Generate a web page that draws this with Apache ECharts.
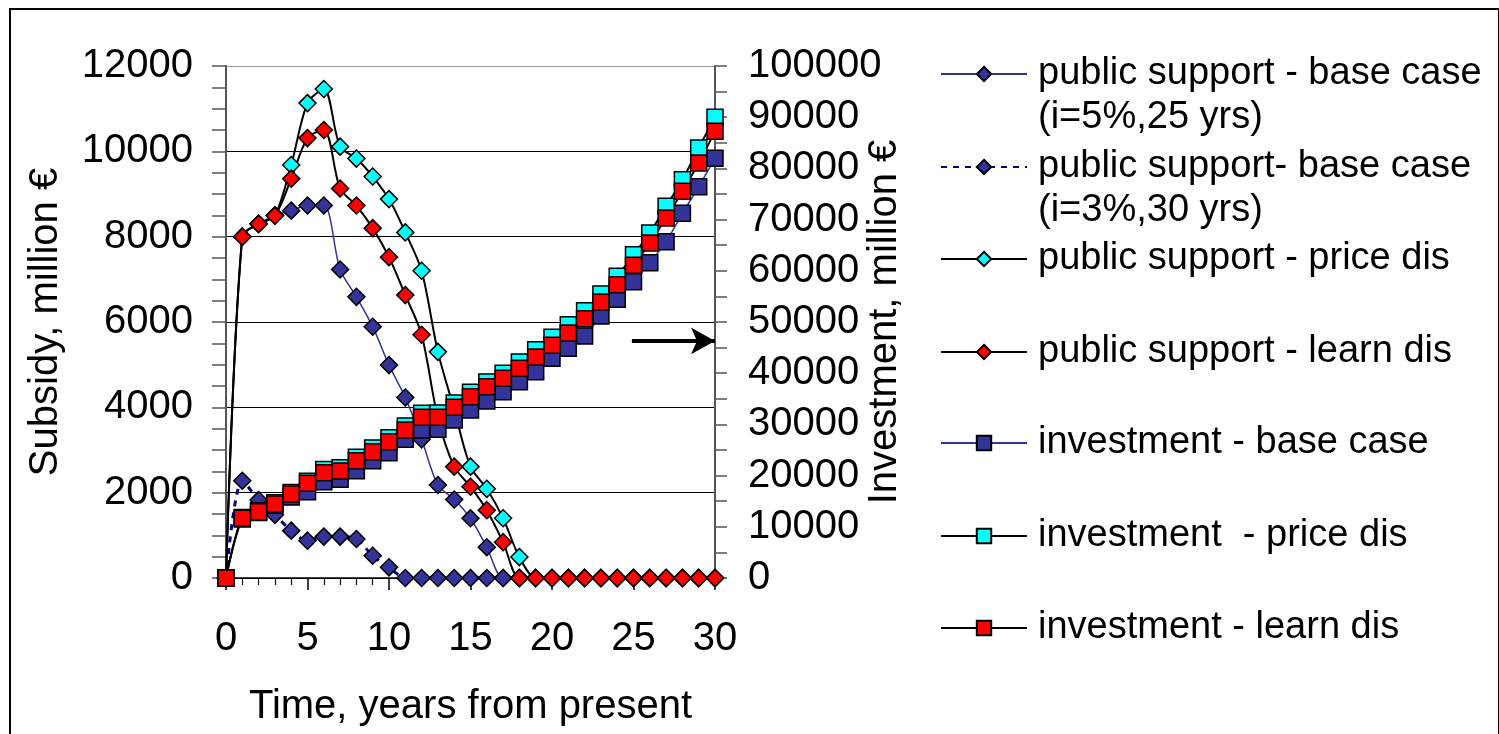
<!DOCTYPE html>
<html>
<head>
<meta charset="utf-8">
<script src="https://cdn.jsdelivr.net/npm/echarts@6/dist/echarts.min.js"></script>
<style>
  html, body { margin: 0; padding: 0; background: #fff; }
  #chart { position: absolute; left: 0; top: 0; width: 1499px; height: 734px; }
  #frame { position: absolute; left: 9px; top: 8px; width: 1487px; height: 800px; border: 2px solid #000; pointer-events: none; }
</style>
</head>
<body>
<div id="chart"></div>
<div id="frame"></div>
<script>
// ---- data ----
const years = [0,1,2,3,4,5,6,7,8,9,10,11,12,13,14,15,16,17,18,19,20,21,22,23,24,25,26,27,28,29,30];

const subsidyBase5 = [0, 8000, 8300, 8500, 8610, 8730, 8730, 7230, 6590, 5890, 4990, 4230, 3250, 2180, 1840, 1400, 720, 0, 0, 0, 0, 0, 0, 0, 0, 0, 0, 0, 0, 0, 0];
const subsidyBase3 = [0, 2280, 1830, 1480, 1110, 875, 970, 970, 915, 520, 250, 0, 0, 0, 0, 0, 0, 0, 0, 0, 0, 0, 0, 0, 0, 0, 0, 0, 0, 0, 0];
const subsidyPrice = [0, 8000, 8300, 8500, 9680, 11130, 11460, 10110, 9830, 9410, 8880, 8100, 7200, 5300, 3950, 2610, 2090, 1400, 490, 0, 0, 0, 0, 0, 0, 0, 0, 0, 0, 0, 0];
const subsidyLearn = [0, 8000, 8300, 8490, 9360, 10310, 10500, 9130, 8730, 8200, 7520, 6630, 5700, 3750, 2610, 2140, 1590, 840, 0, 0, 0, 0, 0, 0, 0, 0, 0, 0, 0, 0, 0];

const investBase  = [0, 11500, 12800, 14200, 15800, 16850, 18810, 19280, 20960, 22910, 24470, 27090, 28900, 29040, 30860, 32810, 34570, 36390, 38340, 40290, 42900, 44860, 47260, 51170, 54430, 57870, 61580, 65690, 71220, 76430, 81960];
const investPrice = [0, 11800, 13150, 14700, 16700, 18900, 21200, 21550, 23600, 25400, 27400, 29700, 32200, 32250, 34200, 36300, 38300, 40000, 42190, 44590, 47000, 49470, 52210, 55470, 58920, 63140, 67380, 72590, 77790, 83980, 89970];
const investLearn = [0, 11660, 12950, 14450, 16400, 18490, 20570, 20900, 22910, 24670, 26620, 28900, 31380, 31380, 33340, 35410, 37360, 39000, 40960, 43160, 45450, 47850, 50640, 53900, 57280, 61070, 65430, 70310, 75520, 81050, 87240];

const seriesNames = [
  'public support - base case\n(i=5%,25 yrs)',
  'public support- base case\n(i=3%,30 yrs)',
  'public support - price dis',
  'public support - learn dis',
  'investment - base case',
  'investment  - price dis',
  'investment - learn dis'
];

// arrow pointing to the right (investment) axis, in data units of that axis
const arrowStart = [24.9, 46300];
const arrowEnd = [30, 46300];

// ---- chart ----
const FONT = "'Liberation Sans', Arial, sans-serif";
const pairs = arr => years.map((x, i) => [x, arr[i]]);
const plain = v => String(v);
const chart = echarts.init(document.getElementById('chart'), null, { renderer: 'canvas' });

function lineSeries(name, data, yAxisIndex, symbol, size, fill, lineColor, lineWidth, lineType) {
  return {
    name: name,
    type: 'line',
    yAxisIndex: yAxisIndex,
    data: pairs(data),
    symbol: symbol,
    symbolSize: size,
    showAllSymbol: true,
    smooth: 0.3,
    itemStyle: { color: fill, borderColor: '#000', borderWidth: 1.5 },
    lineStyle: { color: lineColor, width: lineWidth, type: lineType || 'solid' },
    emphasis: { disabled: true }
  };
}

const series = [
  lineSeries(seriesNames[0], subsidyBase5, 0, 'diamond', 17, '#333399', '#333399', 1.5),
  lineSeries(seriesNames[1], subsidyBase3, 0, 'diamond', 17, '#333399', '#000080', 3, [6, 6]),
  lineSeries(seriesNames[2], subsidyPrice, 0, 'diamond', 17, '#00FFFF', '#000', 2),
  lineSeries(seriesNames[3], subsidyLearn, 0, 'diamond', 17, '#FF0000', '#000', 2),
  lineSeries(seriesNames[4], investBase, 1, 'rect', 16, '#333399', '#333399', 1.5),
  lineSeries(seriesNames[5], investPrice, 1, 'rect', 16, '#00FFFF', '#000', 2),
  lineSeries(seriesNames[6], investLearn, 1, 'rect', 16, '#FF0000', '#000', 2)
];
series[4].markLine = {
  silent: true,
  symbol: ['none', 'arrow'],
  symbolSize: [20, 24],
  label: { show: false },
  lineStyle: { color: '#000', width: 4, type: 'solid' },
  data: [[{ coord: arrowStart }, { coord: arrowEnd }]]
};

// legend rows: icon centre y for each item
const legendCenters = [74, 167, 259, 352, 443, 536, 628];
const LH = 44;
const legends = seriesNames.map((name, i) => {
  const twoLine = name.indexOf('\n') >= 0;
  return {
    left: 940,
    top: legendCenters[i] - (twoLine ? LH * 1.5 : LH / 2),
    orient: 'vertical',
    padding: 0,
    itemWidth: 86,
    itemHeight: 18,
    selectedMode: false,
    data: [name],
    // two-line names get an empty first line so the icon sits beside the first text line
    formatter: n => (n.indexOf('\n') >= 0 ? ' \n' + n : n),
    textStyle: {
      fontFamily: FONT, fontSize: 38, color: '#000', lineHeight: LH,
      padding: [0, 0, 0, 6]
    }
  };
});

const option = {
  animation: false,
  backgroundColor: '#fff',
  textStyle: { fontFamily: FONT },
  grid: { left: 226, right: 784, top: 66, bottom: 156, containLabel: false },
  legend: legends,
  xAxis: {
    type: 'value', min: 0, max: 30, interval: 5,
    name: 'Time, years from present', nameLocation: 'middle', nameGap: 109,
    nameTextStyle: { fontFamily: FONT, fontSize: 40, color: '#000' },
    axisLine: { show: true, onZero: false, lineStyle: { color: '#000', width: 1.5 } },
    axisTick: { show: true, length: 12, lineStyle: { color: '#000', width: 1.5 } },
    minorTick: { show: true, splitNumber: 5, length: 7, lineStyle: { color: '#000', width: 1.2 } },
    axisLabel: { fontFamily: FONT, fontSize: 40, color: '#000', margin: 41, formatter: plain },
    splitLine: { show: false }
  },
  yAxis: [
    {
      type: 'value', min: 0, max: 12000, interval: 2000, position: 'left',
      name: 'Subsidy, million €', nameLocation: 'middle', nameGap: 160,
      nameTextStyle: { fontFamily: FONT, fontSize: 40, color: '#000' },
      axisLine: { show: true, lineStyle: { color: '#555', width: 2 } },
      axisTick: { show: true, length: 14, lineStyle: { color: '#555', width: 1.5 } },
      minorTick: { show: true, splitNumber: 4, length: 14, lineStyle: { color: '#555', width: 1.5 } },
      axisLabel: { fontFamily: FONT, fontSize: 40, color: '#000', margin: 33, formatter: plain },
      splitLine: { show: true, lineStyle: { color: ['#000', '#000', '#000', '#000', '#000', '#000', '#999'], width: 1 } }
    },
    {
      type: 'value', min: 0, max: 100000, interval: 10000, position: 'right',
      name: 'Investment, million €', nameLocation: 'middle', nameGap: 150,
      nameMoveOverlap: false,
      nameTextStyle: { fontFamily: FONT, fontSize: 40, color: '#000' },
      axisLine: { show: true, lineStyle: { color: '#555', width: 2 } },
      axisTick: { show: true, length: 12, lineStyle: { color: '#555', width: 1.5 } },
      minorTick: { show: true, splitNumber: 2, length: 12, lineStyle: { color: '#555', width: 1.5 } },
      axisLabel: { fontFamily: FONT, fontSize: 40, color: '#000', margin: 33, formatter: plain },
      splitLine: { show: false }
    }
  ],
  series: series
};
chart.setOption(option);
</script>
</body>
</html>
